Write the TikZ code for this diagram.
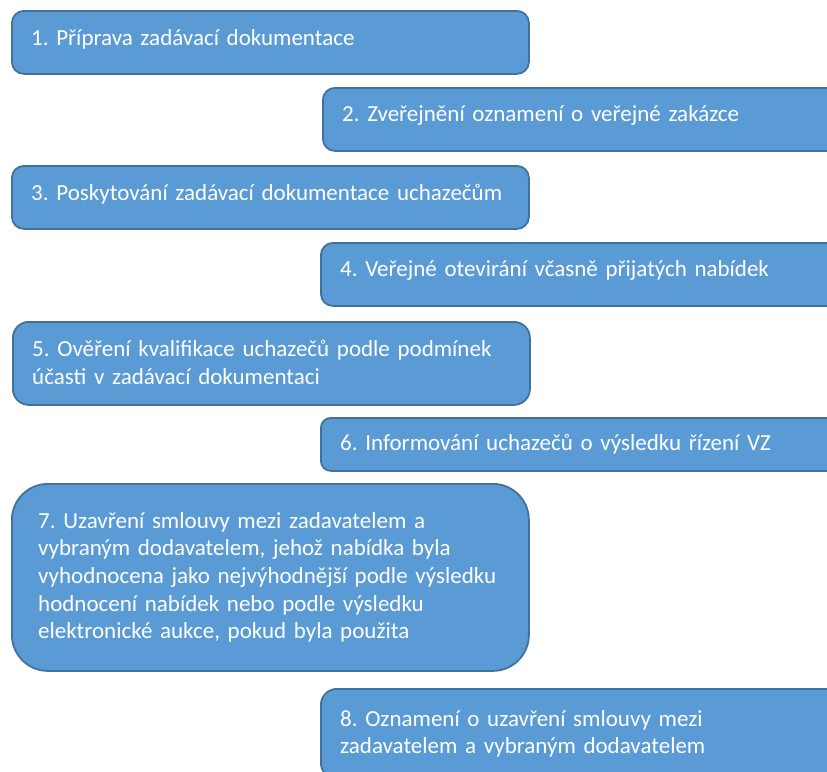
\documentclass[tikz,border=0pt]{standalone}
\usepackage{fontspec}
\setmainfont{Carlito}
\definecolor{boxfill}{HTML}{5B9BD5}
\definecolor{boxline}{HTML}{41719C}
\begin{document}
\frenchspacing
\begin{tikzpicture}[x=1pt,y=-1pt,
  box/.style={draw=boxline, fill=boxfill, line width=1.8pt, anchor=north west,
    inner sep=0pt},
  lbox/.style={box, minimum width=517pt},
  rbox/.style={box, minimum width=540pt},
  txt/.style={anchor=west, inner sep=0pt, align=left, text width=480pt, text=white,
    font=\fontsize{23}{27.7}\selectfont\frenchspacing}]
\useasboundingbox (0,0) rectangle (827,771);
\node[lbox, minimum height=63pt, rounded corners=12pt] (b1) at (11,10) {};
\node[txt] (t1) at ([xshift=20pt,yshift=3pt]b1.west) {1. Příprava zadávací dokumentace};
\node[rbox, minimum height=63pt, rounded corners=12pt] (b2) at (322,87) {};
\node[txt] (t2) at ([xshift=20pt,yshift=3.5pt]b2.west) {2. Zveřejnění oznamení o veřejné zakázce};
\node[lbox, minimum height=63pt, rounded corners=12pt] (b3) at (11,165) {};
\node[txt] (t3) at ([xshift=20pt,yshift=3pt]b3.west) {3. Poskytování zadávací dokumentace uchazečům};
\node[rbox, minimum height=63pt, rounded corners=12pt] (b4) at (320,242) {};
\node[txt] (t4) at ([xshift=20pt,yshift=3.5pt]b4.west) {4. Veřejné otevirání včasně přijatých nabídek};
\node[lbox, minimum height=83pt, rounded corners=16pt] (b5) at (12,321) {};
\node[txt] (t5) at ([xshift=20pt,yshift=1pt]b5.west) {5. Ověření kvalifikace uchazečů podle podmínek\\účasti v zadávací dokumentaci};
\node[rbox, minimum height=53pt, rounded corners=10pt] (b6) at (320,417) {};
\node[txt] (t6) at ([xshift=20pt]b6.west) {6. Informování uchazečů o výsledku řízení VZ};
\node[lbox, minimum height=187pt, rounded corners=36pt] (b7) at (11,483) {};
\node[txt] (t7) at ([xshift=27pt]b7.west) {7. Uzavření smlouvy mezi zadavatelem a\\vybraným dodavatelem, jehož nabídka byla\\vyhodnocena jako nejvýhodnější podle výsledku\\hodnocení nabídek nebo podle výsledku\\elektronické aukce, pokud byla použita};
\node[rbox, minimum height=90pt, rounded corners=16pt] (b8) at (320,688) {};
\node[txt] (t8) at ([xshift=20pt]b8.west) {8. Oznamení o uzavření smlouvy mezi\\zadavatelem a vybraným dodavatelem};
\end{tikzpicture}
\end{document}
